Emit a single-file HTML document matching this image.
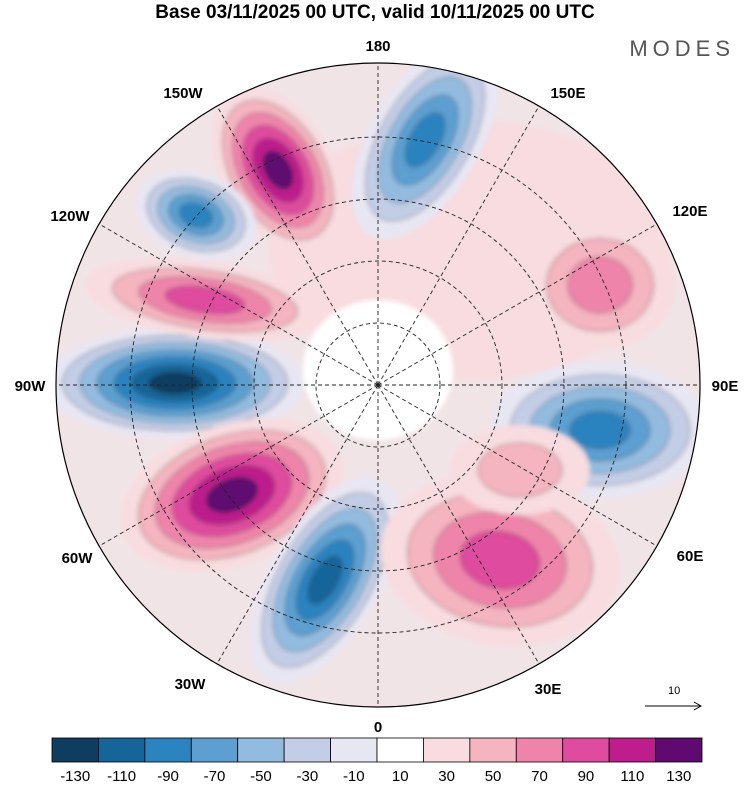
<!DOCTYPE html>
<html><head><meta charset="utf-8"><style>
body{margin:0;background:#fff;width:750px;height:783px;overflow:hidden;font-family:"Liberation Sans",sans-serif}
</style></head><body>
<svg width="750" height="783" viewBox="0 0 750 783">
<text x="375" y="18" text-anchor="middle" font-size="19" font-weight="bold">Base 03/11/2025 00 UTC, valid 10/11/2025 00 UTC</text>
<text x="735" y="56" text-anchor="end" font-size="22" fill="#555" letter-spacing="5">MODES</text>
<defs><clipPath id="cc"><circle cx="378" cy="385" r="322"/></clipPath>
<filter id="bl"><feGaussianBlur stdDeviation="2.5"/></filter></defs>
<g clip-path="url(#cc)">
<rect x="0" y="0" width="750" height="783" fill="#f1e4e7"/>
<g id="blobs" filter="url(#bl)"></g>
</g>
<g id="grid" fill="none" stroke="#222" stroke-dasharray="4,3" stroke-width="0.9"></g>
<circle cx="378" cy="385" r="322" fill="none" stroke="#000" stroke-width="1.2"/>
<g id="lonlabels" font-size="15" font-weight="bold" text-anchor="middle"></g>
<text x="668" y="694" font-size="11">10</text>
<line x1="645" y1="706" x2="700" y2="706" stroke="#000"/>
<path d="M694,702 L701,706 L694,710" fill="none" stroke="#000"/>
<g id="cbar"></g>
</svg>
<script>
const levels=[-130,-110,-90,-70,-50,-30,-10,10,30,50,70,90,110,130];
const colors=["#0e3d60","#15659a","#2b83bf","#5c9fd0","#93bbdf","#c3cde6","#e7e6f3","#ffffff","#f8dcdf","#f4b4c0","#ef84aa","#df4b9e","#bd1e8c","#5e0a70"];
const NS="http://www.w3.org/2000/svg";
function mk(t,a,p){const e=document.createElementNS(NS,t);for(const k in a)e.setAttribute(k,a[k]);p.appendChild(e);return e;}
const cb=document.getElementById('cbar');
const x0=52,w=650/levels.length;
levels.forEach((v,i)=>{
 const r=mk('rect',{x:x0+i*w,y:738,width:w,height:24,fill:colors[i],stroke:'#000','stroke-width':0.8},cb);
 
 
 const t=mk('text',{x:x0+i*w+w/2,y:781,'text-anchor':'middle','font-size':15},cb);
 t.textContent=v;
 
 
});
const blobCx=[470,175,232,278,196,205,425,325,600,600,500,378,520];
const blobCy=[250,383,495,170,215,300,140,580,430,285,560,370,470];
const blobRx=[200,130,115,90,62,120,110,115,110,75,120,75,70];
const blobRy=[130,55,70,55,42,38,55,55,68,65,85,70,45];
const blobRot=[0,0,-20,60,20,8,-60,-60,0,0,10,0,0];
const blobPeak=[8,0,13,13,2,11,2,1,2,10,11,7,9];
const bg=document.getElementById('blobs');
blobCx.forEach((cx,i)=>{
 const p=blobPeak[i];
 const n=p<7?7-p:(p===7?1:p-7);
 for(let k=0;k<n;k++){
  const f=1-k/(n+0.5);
  const idx=p<7?6-k:(p===7?7:8+k);
  const e=mk('ellipse',{cx:cx,cy:blobCy[i],rx:blobRx[i]*f,ry:blobRy[i]*f,fill:colors[idx],stroke:k>0?'#333':'none','stroke-width':0.6,transform:`rotate(${blobRot[i]} ${cx} ${blobCy[i]})`},bg);
  
  
 }
});
const g=document.getElementById('grid');
[62,124,186,248].forEach(r=>{const c=mk('circle',{cx:378,cy:385,r:r},g);});
for(let a=0;a<360;a+=30){const rad=a*Math.PI/180;const l=mk('line',{x1:378,y1:385,x2:378+322*Math.sin(rad),y2:385+322*Math.cos(rad)},g);}
const lons=["0","30E","60E","90E","120E","150E","180","150W","120W","90W","60W","30W"];
const lonLX=[378,548,690,725,690,568,378,183,70,30,77,190];
const lonLY=[732,694,561,391,216,98,51,98,221,391,563,689];
const ll=document.getElementById('lonlabels');
lons.forEach((s,i)=>{
 const t=mk('text',{x:lonLX[i],y:lonLY[i]},ll);t.textContent=s;
 });
</script>
</body></html>
